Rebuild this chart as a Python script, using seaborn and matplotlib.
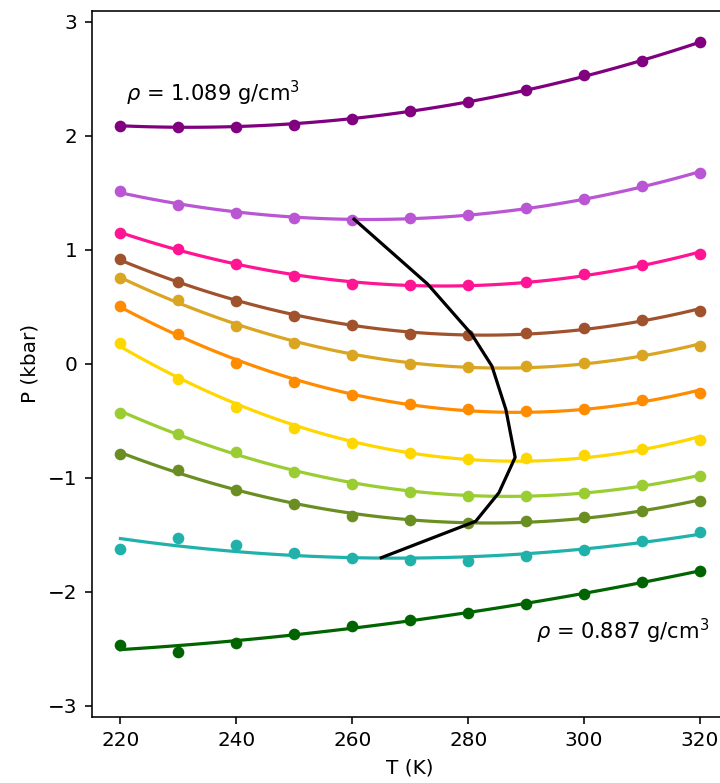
import numpy as np
import pandas as pd
import matplotlib
matplotlib.use("Agg")
import matplotlib.pyplot as plt
import seaborn as sns

T = [220, 230, 240, 250, 260, 270, 280, 290, 300, 310, 320]

P_1089 = [2.09, 2.08, 2.08, 2.10, 2.15, 2.22, 2.30, 2.40, 2.53, 2.66, 2.82]
P_orchid = [1.515, 1.397, 1.327, 1.278, 1.263, 1.281, 1.304, 1.371, 1.450, 1.559, 1.675]
P_pink = [1.152, 1.011, 0.874, 0.772, 0.699, 0.693, 0.693, 0.719, 0.787, 0.868, 0.968]
P_sienna = [0.918, 0.719, 0.553, 0.421, 0.339, 0.266, 0.252, 0.275, 0.319, 0.386, 0.465]
P_goldenrod = [0.757, 0.558, 0.333, 0.187, 0.079, 0.003, -0.026, -0.020, 0.011, 0.079, 0.158]
P_orange = [0.509, 0.266, 0.012, -0.158, -0.272, -0.354, -0.398, -0.412, -0.392, -0.319, -0.252]
P_gold = [0.187, -0.135, -0.374, -0.558, -0.690, -0.784, -0.830, -0.822, -0.801, -0.749, -0.667]
P_yellowgreen = [-0.427, -0.611, -0.772, -0.945, -1.050, -1.120, -1.158, -1.158, -1.129, -1.064, -0.982]
P_olive = [-0.787, -0.933, -1.108, -1.225, -1.333, -1.371, -1.392, -1.377, -1.342, -1.289, -1.202]
P_seagreen = [-1.620, -1.526, -1.591, -1.661, -1.705, -1.722, -1.728, -1.684, -1.635, -1.553, -1.474]
P_0887 = [-2.465, -2.526, -2.444, -2.365, -2.298, -2.246, -2.181, -2.102, -2.020, -1.915, -1.816]

series = [P_1089, P_orchid, P_pink, P_sienna, P_goldenrod, P_orange,
          P_gold, P_yellowgreen, P_olive, P_seagreen, P_0887]
colors = ["purple", "mediumorchid", "deeppink", "sienna", "goldenrod",
          "darkorange", "gold", "yellowgreen", "olivedrab", "lightseagreen",
          "darkgreen"]

T_tmd = [260.3, 273.0, 280.6, 284.1, 286.5, 288.1, 285.3, 281.3, 265.0]
P_tmd = [1.27, 0.70, 0.26, -0.02, -0.40, -0.82, -1.13, -1.38, -1.70]

label_top = r"$\rho$ = 1.089 g/cm$^3$"
label_bottom = r"$\rho$ = 0.887 g/cm$^3$"

fig = plt.figure(figsize=(5.0, 783 / 144), dpi=144)
ax = fig.add_axes([91.5 / 720, 1 - 717.3 / 783, (729 - 91.5) / 720, (717.3 - 10.5) / 783])

for vals, c in zip(series, colors):
    df = pd.DataFrame({"T": T, "P": vals})
    sns.regplot(data=df, x="T", y="P", order=2, ci=None, ax=ax, color=c,
                truncate=True,
                scatter_kws={"s": 34, "alpha": 1, "linewidths": 0},
                line_kws={"lw": 1.6})

sns.lineplot(x=T_tmd, y=P_tmd, sort=False, estimator=None, color="black", lw=1.6, ax=ax)

ax.text(221, 2.37, label_top, fontsize=10.5, ha="left", va="center")
ax.text(321.5, -2.35, label_bottom, fontsize=10.5, ha="right", va="center")

ax.set_xlim(215, 325)
ax.set_ylim(-3.1, 3.1)
ax.set_xticks([220, 240, 260, 280, 300, 320])
ax.set_yticks([-3, -2, -1, 0, 1, 2, 3])
ax.set_xlabel("T (K)")
ax.set_ylabel("P (kbar)")

fig.savefig("out.png", dpi=144)
